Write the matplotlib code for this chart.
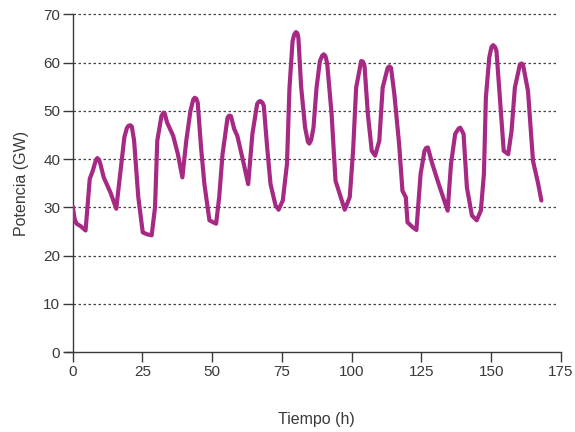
import matplotlib
matplotlib.use('Agg')
import matplotlib.pyplot as plt

# Potencia a lo largo de una semana
tiempo = [0, 0.7, 1.4, 2.8, 4.6, 6.1, 7.2, 8.3, 8.8, 9.4, 9.9, 11.1, 13.5, 15.6, 17.0,
          18.5, 19.4, 20.0, 20.7, 21.2, 22.0, 23.5, 25.1, 26.7, 28.3, 29.5, 30.3,
          31.8, 32.5, 33.0, 33.8, 36.0, 37.7, 39.3, 40.7, 42.2, 43.2, 43.7, 44.3,
          44.8, 46.0, 47.2, 49.0, 51.4, 52.5, 53.7, 55.5, 56.1, 56.7, 57.9, 59.0,
          60.8, 62.9, 64.4, 66.1, 66.7, 67.3, 68.0, 68.5, 69.7, 70.9, 72.7, 73.8,
          75.3, 76.8, 77.7, 78.8, 79.4, 80.0, 80.5, 80.9, 81.9, 83.3, 84.3, 84.8,
          85.5, 86.3, 87.4, 88.6, 89.4, 90.0, 90.6, 91.2, 92.8, 94.2, 95.7, 97.5,
          99.3, 100.5, 101.6, 103.4, 104.0, 104.6, 105.8, 107.2, 108.4, 109.9,
          111.1, 112.9, 113.5, 114.1, 115.3, 117.0, 118.2, 119.4, 120.0, 121.8,
          123.2, 124.7, 126.1, 126.7, 127.3, 128.9, 131.2, 133.0, 134.4, 135.6,
          137.1, 138.3, 138.9, 140.1, 141.3, 143.1, 144.8, 146.3, 147.4, 148.1,
          149.3, 150.1, 150.7, 151.4, 151.9, 153.1, 154.5, 156.1, 157.3, 158.5,
          160.3, 160.9, 161.4, 163.2, 165.0, 166.8, 168.0]
potencia = [30.2, 27.5, 26.6, 26.1, 25.2, 35.9, 37.6, 39.8, 40.2, 39.9, 39.0, 36.2,
            33.1, 29.7, 36.9, 44.5, 46.4, 46.9, 47.0, 46.7, 43.8, 32.1, 24.8, 24.4,
            24.2, 30.0, 43.8, 48.9, 49.6, 49.4, 47.6, 44.8, 41.0, 36.2, 43.8, 50.0,
            52.3, 52.7, 52.5, 51.7, 42.4, 34.8, 27.3, 26.6, 32.1, 41.0, 48.6, 49.0,
            48.9, 46.2, 44.8, 40.3, 34.8, 45.2, 51.4, 51.9, 52.0, 51.7, 51.0, 42.4,
            34.8, 30.4, 29.5, 31.4, 39.0, 54.8, 64.4, 65.8, 66.3, 66.1, 65.1, 54.8,
            46.5, 43.6, 43.2, 44.0, 46.5, 54.8, 60.3, 61.4, 61.7, 61.3, 59.9, 49.3,
            35.5, 32.8, 29.5, 32.1, 41.7, 54.8, 60.3, 60.2, 59.3, 49.3, 41.7, 40.7,
            43.8, 54.8, 58.9, 59.2, 58.9, 53.4, 43.1, 33.4, 32.1, 26.9, 25.9, 25.3,
            36.9, 41.7, 42.3, 42.4, 39.0, 34.8, 31.7, 29.3, 39.0, 45.2, 46.3, 46.5,
            45.2, 34.1, 28.3, 27.3, 29.3, 36.9, 52.7, 61.0, 63.2, 63.6, 63.2, 62.4,
            52.7, 41.7, 41.0, 45.8, 54.8, 59.6, 59.8, 59.6, 54.1, 39.6, 35.0, 31.4]

x_ticks = [0, 25, 50, 75, 100, 125, 150, 175]
y_ticks = [0, 10, 20, 30, 40, 50, 60, 70]

plt.rcParams['font.family'] = ['Liberation Sans', 'DejaVu Sans']
gris = '#3a3a3a'

fig = plt.figure(figsize=(5.75, 4.32), dpi=100)
ax = fig.add_axes([0.1265, 0.185, 0.849, 0.782])

ax.plot(tiempo, potencia, color='#a62a84', linewidth=3.0,
        solid_joinstyle='round', solid_capstyle='round', zorder=3)

ax.set_xlim(0, 175)
ax.set_ylim(0, 70)
ax.set_xticks(x_ticks)
ax.set_yticks(y_ticks)

# rejilla punteada solo en horizontal
for v in y_ticks[1:]:
    ax.plot([0, 174], [v, v], linestyle=(0, (2, 2)), color='#444444',
            linewidth=0.9, zorder=1, clip_on=False)

ax.spines['top'].set_visible(False)
ax.spines['right'].set_visible(False)
ax.spines['left'].set_color(gris)
ax.spines['bottom'].set_color(gris)
ax.spines['bottom'].set_bounds(-2.8, 175)
ax.spines['left'].set_linewidth(1.0)
ax.spines['bottom'].set_linewidth(1.0)

ax.tick_params(axis='both', colors=gris, labelsize=11, length=7, width=1.0)
ax.tick_params(axis='x', pad=2)
ax.tick_params(axis='y', pad=2)

ax.set_xlabel('Tiempo (h)', fontsize=11.5, color=gris, labelpad=24)
ax.set_ylabel('Potencia (GW)', fontsize=11.5, color=gris, labelpad=10)

fig.savefig('out.png', dpi=100)
